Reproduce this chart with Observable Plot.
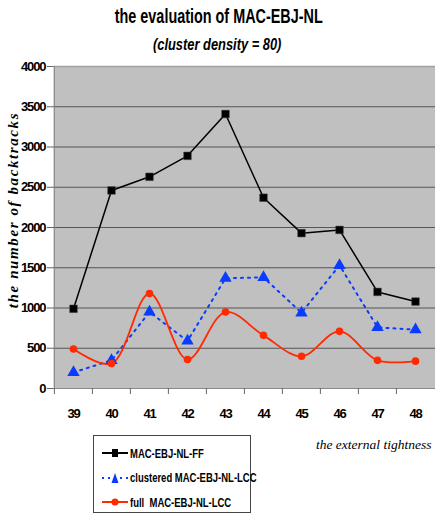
<!DOCTYPE html>
<html>
<head>
<meta charset="utf-8">
<script src="https://cdn.jsdelivr.net/npm/d3@7"></script>
<script src="https://cdn.jsdelivr.net/npm/@observablehq/plot@0.6"></script>
<style>
  html, body { margin: 0; padding: 0; background: #fff; }
  #wrap { position: relative; width: 435px; height: 515px; overflow: hidden; }
  .narrow { font-family: "Liberation Sans", Arial, sans-serif; font-weight: bold; }
  #title { position: absolute; left: 0; width: 435px; top: 5px; text-align: center; font-size: 20px; color: #000; transform: scaleX(0.72); transform-origin: 222px 0; }
  #subtitle { position: absolute; left: 0; width: 435px; top: 35px; text-align: center; font-size: 16.5px; font-style: italic; transform: scaleX(0.78); transform-origin: 216px 0; }
  #ylab { position: absolute; left: 13px; top: 210px; transform: translate(-50%, -50%) rotate(-90deg); white-space: nowrap; font-family: "Liberation Serif", "DejaVu Serif", serif; font-weight: bold; font-style: italic; font-size: 15px; letter-spacing: 1.6px; }
  #xlab { position: absolute; left: 316px; top: 437px; white-space: nowrap; font-family: "Liberation Serif", "DejaVu Serif", serif; font-style: italic; font-size: 13.5px; }
  #legend { position: absolute; left: 93px; top: 435px; width: 158px; height: 78px; border: 1px solid #444; background: #fff; box-sizing: border-box; }
  .item { position: absolute; left: 8px; height: 16px; display: flex; align-items: center; font-size: 13px; white-space: nowrap; }
  .item svg { margin-right: 2px; flex: none; }
  .item span { display: inline-block; transform: scaleX(0.73); transform-origin: 0 50%; }
  #chart { position: absolute; left: 0; top: 0; }
</style>
</head>
<body>
<div id="wrap">
  <div id="chart"></div>
  <div id="title" class="narrow">the evaluation of MAC-EBJ-NL</div>
  <div id="subtitle" class="narrow">(cluster density = 80)</div>
  <div id="ylab">the number of backtracks</div>
  <div id="xlab">the external tightness</div>
  <div id="legend" class="narrow"></div>
</div>
<script>
const categories = ["39","40","41","42","43","44","45","46","47","48"];
const seriesNames = ["MAC-EBJ-NL-FF", "clustered MAC-EBJ-NL-LCC", "full  MAC-EBJ-NL-LCC"];
const ffValues = [990, 2460, 2630, 2890, 3410, 2370, 1930, 1970, 1200, 1080];
const clusteredValues = [200, 350, 950, 590, 1370, 1380, 940, 1530, 760, 730];
const fullValues = [490, 310, 1180, 360, 950, 660, 400, 710, 350, 340];
const yTicks = [0, 500, 1000, 1500, 2000, 2500, 3000, 3500, 4000];

const colors = ["#000000", "#0a3cff", "#ff2a00"];

const ff = categories.map((c, i) => ({x: c, y: ffValues[i]}));
const cl = categories.map((c, i) => ({x: c, y: clusteredValues[i]}));
const fu = categories.map((c, i) => ({x: c, y: fullValues[i]}));

const font = '"Liberation Sans", Arial, sans-serif';

const chart = Plot.plot({
  width: 435,
  height: 515,
  marginTop: 66,
  marginBottom: 127,
  marginLeft: 53,
  marginRight: 0,
  style: {fontFamily: font, fontWeight: "bold", fontSize: "13px", color: "#000", background: "transparent", letterSpacing: "-1.1px"},
  x: {type: "band", domain: categories, padding: 0, label: null},
  y: {domain: [0, 4000], label: null},
  marks: [
    Plot.frame({fill: "#c0c0c0", stroke: null}),
    Plot.ruleY(yTicks.filter(t => t > 0 && t < 4000), {stroke: "#555", strokeWidth: 1}),
    Plot.ruleY([4000], {stroke: "#a0a0a0", strokeWidth: 1.5}),
    Plot.ruleX([categories[0]], {dx: -19.1, stroke: "#888", strokeWidth: 1}),
    Plot.ruleY([0], {stroke: "#888", strokeWidth: 1}),
    Plot.axisY({ticks: yTicks, tickSize: 6, tickPadding: 2, tickFormat: d => String(d), stroke: "#666", fontSize: 13}),
    Plot.axisX({tickSize: 0, tickPadding: 20, fontSize: 13}),
    Plot.axisX({tickSize: 6, text: null, dx: -19.1, stroke: "#666"}),
    Plot.line(ff, {x: "x", y: "y", stroke: colors[0], strokeWidth: 1.5}),
    Plot.line(cl, {x: "x", y: "y", stroke: colors[1], strokeWidth: 2, strokeDasharray: "2,5"}),
    Plot.line(fu, {x: "x", y: "y", stroke: colors[2], strokeWidth: 1.8, curve: "catmull-rom"}),
    Plot.dot(ff, {x: "x", y: "y", symbol: "square", r: 4.3, fill: colors[0], stroke: "#444", strokeWidth: 0.5}),
    Plot.dot(cl, {x: "x", y: "y", symbol: "triangle", r: 4.6, fill: colors[1], stroke: null}),
    Plot.dot(fu, {x: "x", y: "y", symbol: "circle", r: 3.8, fill: colors[2], stroke: null})
  ]
});
document.getElementById("chart").appendChild(chart);

// legend
const legend = document.getElementById("legend");
const symbols = [
  '<rect x="10" y="4" width="6" height="8" fill="#000"/>',
  '<path d="M13 3 L16.5 13 L9.5 13 Z" fill="#0a3cff"/>',
  '<circle cx="13" cy="8" r="3.5" fill="#ff2a00"/>'
];
const dashes = ["", "2,4", ""];
seriesNames.forEach((name, i) => {
  const div = document.createElement("div");
  div.className = "item";
  div.style.top = (9 + i * 24.5) + "px";
  div.innerHTML = `<svg width="26" height="16"><line x1="0" x2="26" y1="8" y2="8" stroke="${colors[i]}" stroke-width="2" ${dashes[i] ? `stroke-dasharray="${dashes[i]}"` : ""}/>${symbols[i]}</svg><span>${name.replace(/ /g, "&nbsp;")}</span>`;
  legend.appendChild(div);
});
</script>
</body>
</html>
